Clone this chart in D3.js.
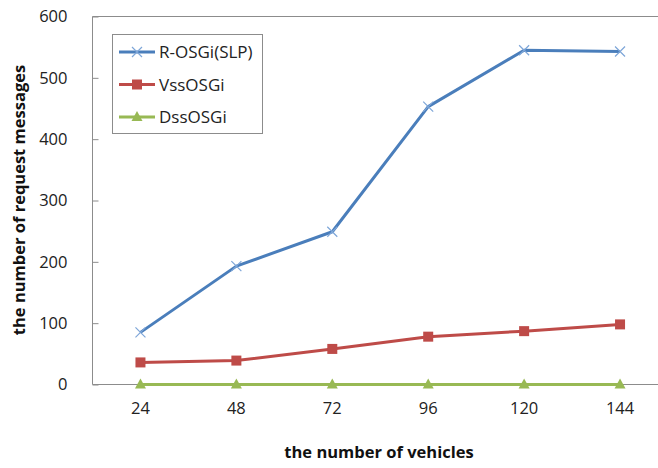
<!DOCTYPE html>
<html><head><meta charset="utf-8">
<script src="https://cdn.jsdelivr.net/npm/d3@7"></script>
<style>body{margin:0;background:#fff}svg{display:block;font-family:"Open Sans","Liberation Sans",sans-serif}</style>
</head><body><svg id="c" width="658" height="468"></svg>
<script>
const categories = ["24","48","72","96","120","144"];
const rosgi = [85, 193, 249, 453, 545, 543];
const vss = [36, 39, 58, 78, 87, 98];
const dss = [0, 0, 0, 0, 0, 0];
const yTicks = [0,100,200,300,400,500,600];
const seriesNames = ["R-OSGi(SLP)","VssOSGi","DssOSGi"];

const svg = d3.select("#c");
const L=92.5, T=16.5, B=384.5, R=668;
const x = d3.scaleBand().domain(categories).range([L,R]);
const y = d3.scaleLinear().domain([0,600]).range([B,T]);
const cx = d => x(d)+x.bandwidth()/2;

svg.append("path").attr("d",`M${L},${B}V${T}H${R}`).attr("fill","none").attr("stroke","#8c8c8c").attr("stroke-width",1);
svg.append("line").attr("x1",L).attr("x2",R).attr("y1",B).attr("y2",B).attr("stroke","#8c8c8c");

const yAxis = d3.axisLeft(y).tickValues(yTicks).tickSize(-6).tickPadding(25);
const yg = svg.append("g").attr("transform",`translate(${L},0)`).call(yAxis);
yg.select(".domain").remove();
yg.selectAll(".tick line").attr("stroke","#8c8c8c");
yg.selectAll("text").attr("font-size",16.5).attr("fill","#222").attr("font-family","'Open Sans',sans-serif");

const xAxis = d3.axisBottom(x).tickSize(0).tickPadding(18);
const xg = svg.append("g").attr("transform",`translate(0,${B})`).call(xAxis);
xg.select(".domain").remove();
xg.selectAll("text").attr("font-size",16.5).attr("fill","#222").attr("font-family","'Open Sans',sans-serif");

svg.append("text").attr("x",379).attr("y",458).attr("text-anchor","middle").attr("font-size",16.5).attr("font-weight","bold").attr("fill","#111").text("the number of vehicles");
svg.append("text").attr("transform","translate(25,200) rotate(-90)").attr("text-anchor","middle").attr("font-size",16.5).attr("font-weight","bold").attr("fill","#111").text("the number of request messages");

const line = d3.line().x((d,i)=>cx(categories[i])).y(d=>y(d));
const colors = ["#4A7EBB","#BE4B48","#98B954"];
const data = [rosgi, vss, dss];

function marker(g, k, px, py){
  if(k===0){
    g.append("path").attr("d",`M${px-5},${py-5}L${px+5},${py+5}M${px-5},${py+5}L${px+5},${py-5}`).attr("stroke","#7ea6d8").attr("stroke-width",1.2);
  } else if(k===1){
    g.append("rect").attr("x",px-5).attr("y",py-5).attr("width",10).attr("height",10).attr("fill",colors[1]);
  } else {
    g.append("path").attr("d",`M${px},${py-6}L${px+5.5},${py+4}L${px-5.5},${py+4}Z`).attr("fill",colors[2]);
  }
}

data.forEach((s,k)=>{
  svg.append("path").attr("d",line(s)).attr("fill","none").attr("stroke",colors[k]).attr("stroke-width",3).attr("stroke-linejoin","round");
  const g = svg.append("g");
  s.forEach((v,i)=>marker(g,k,cx(categories[i]),y(v)));
});

svg.append("rect").attr("x",112.5).attr("y",34.5).attr("width",150).attr("height",99).attr("fill","#fff").attr("stroke","#8c8c8c");
seriesNames.forEach((n,k)=>{
  const yy = 52 + k*32.5;
  svg.append("line").attr("x1",119).attr("x2",155).attr("y1",yy).attr("y2",yy).attr("stroke",colors[k]).attr("stroke-width",3);
  marker(svg,k,137,yy);
  svg.append("text").attr("x",159).attr("y",yy+6).attr("font-size",17).attr("fill","#222").text(n);
});
</script></body></html>
